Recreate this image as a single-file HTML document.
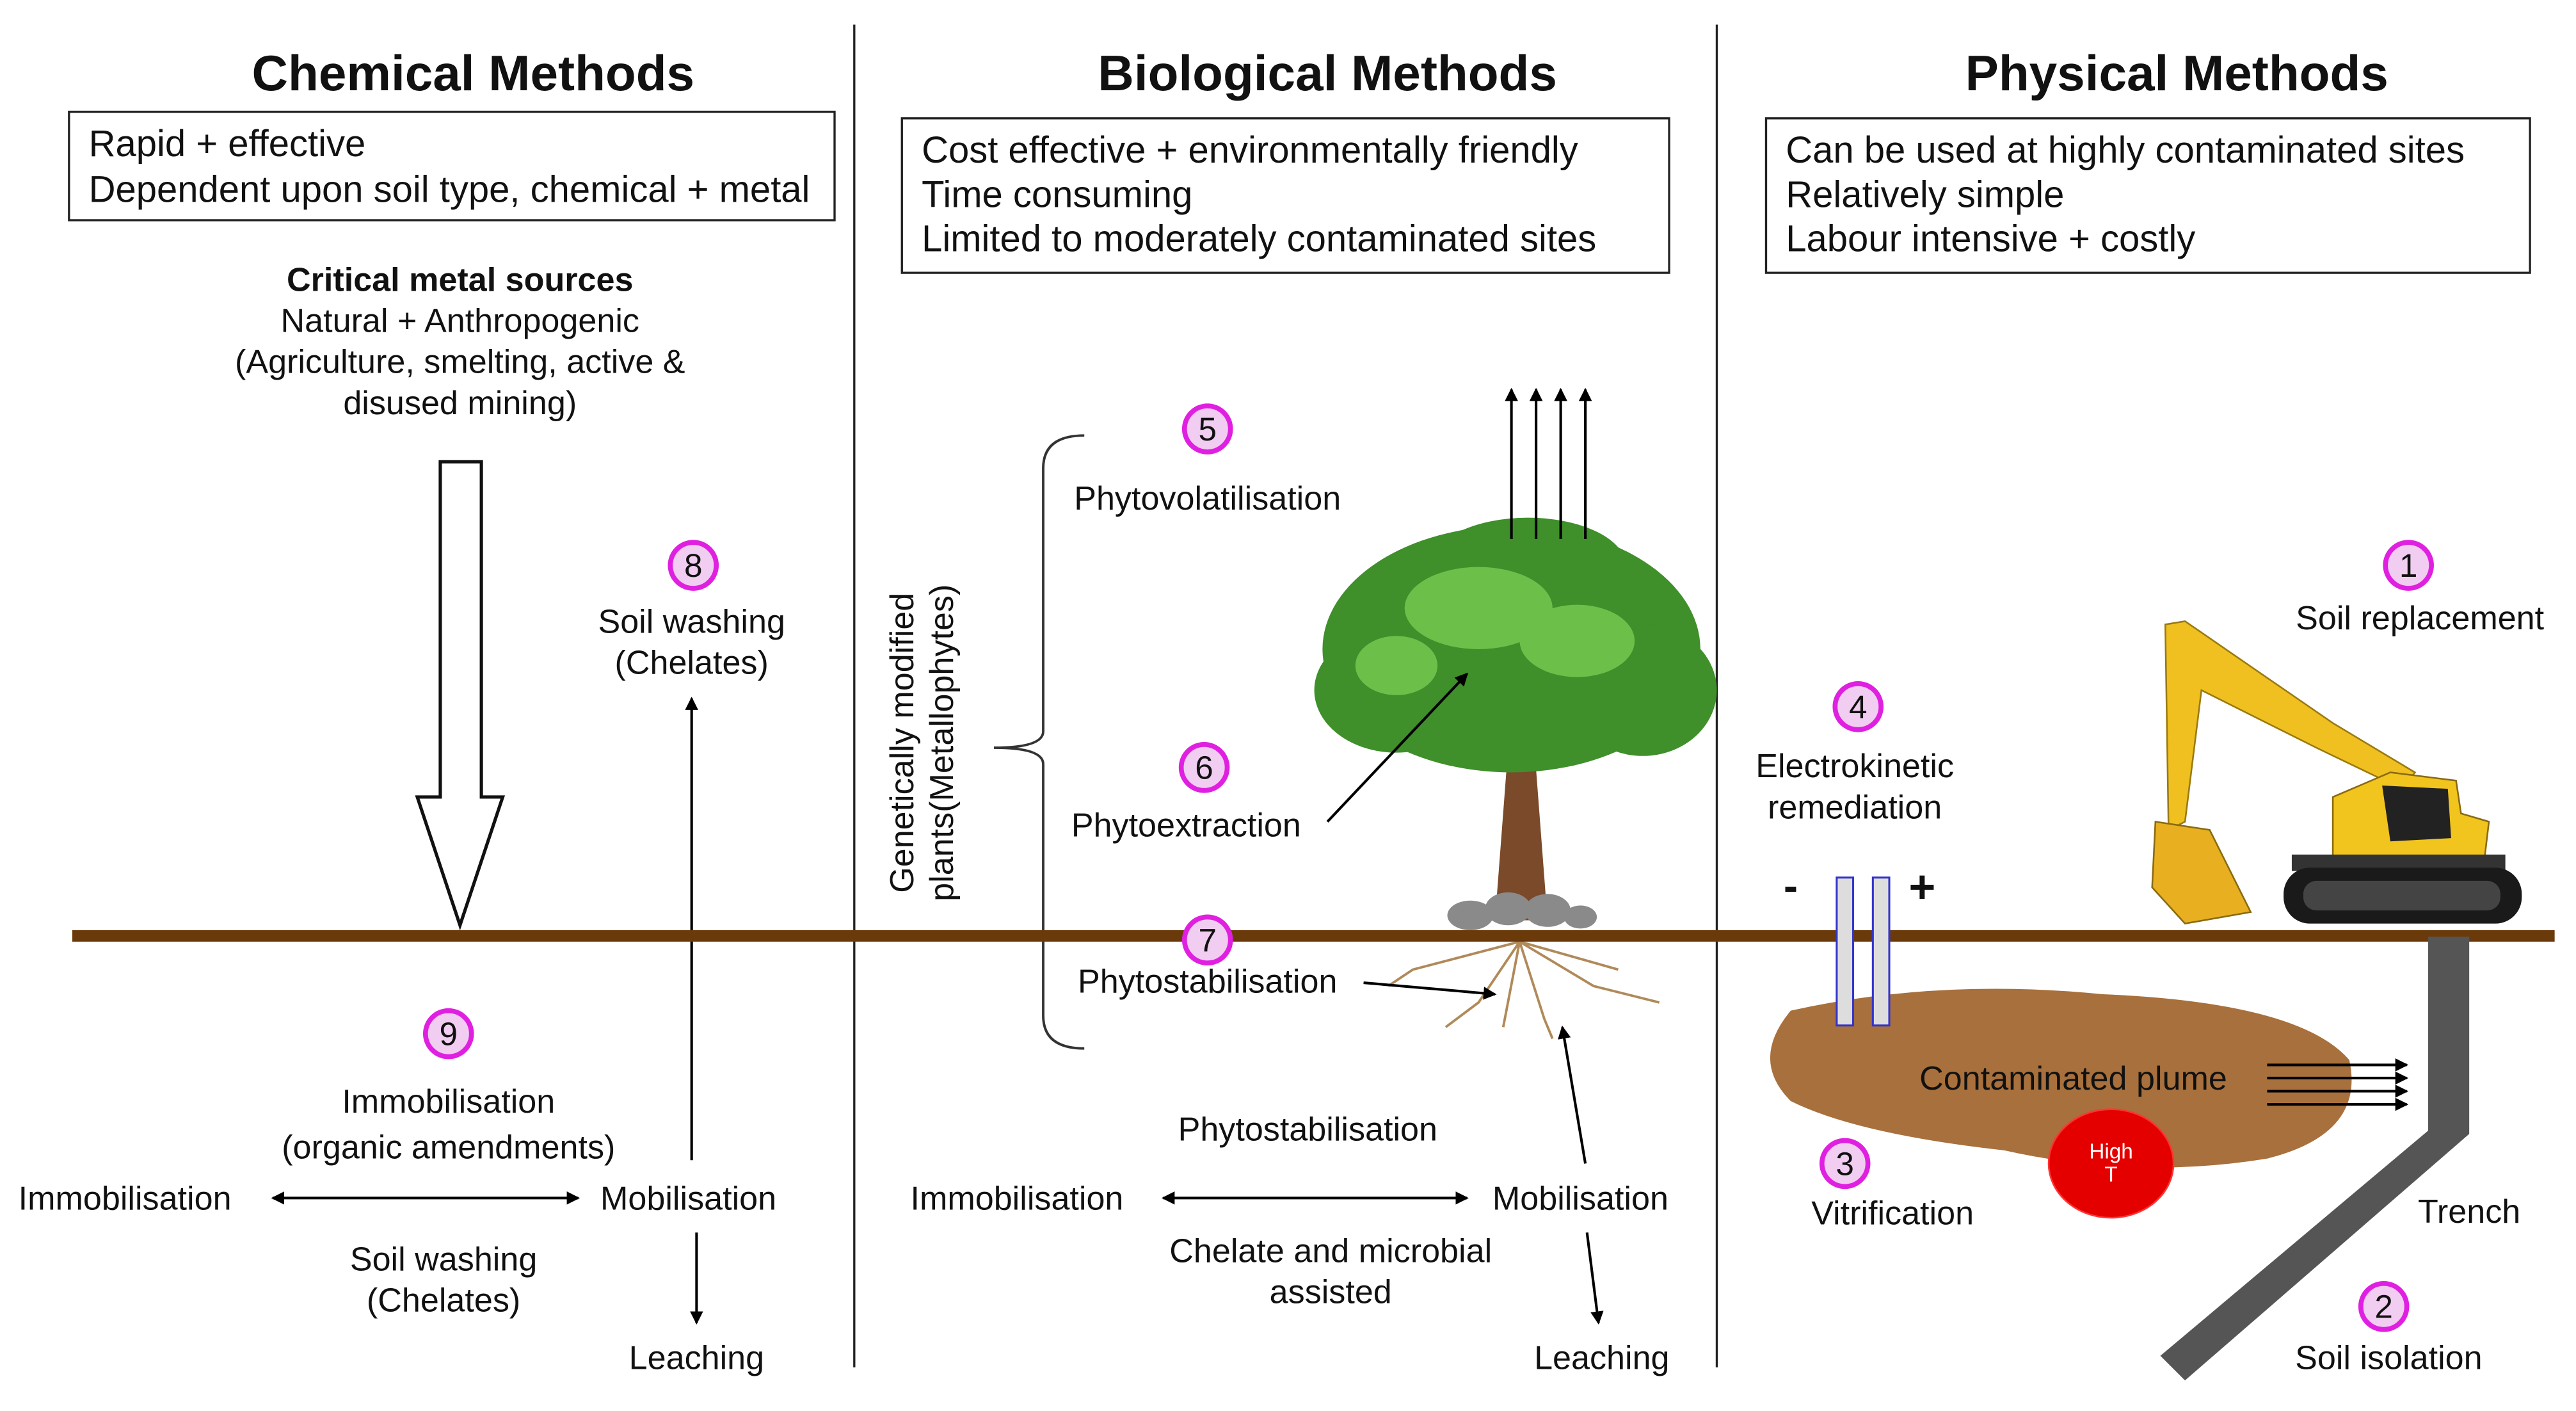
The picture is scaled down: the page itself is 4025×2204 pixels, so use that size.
<!DOCTYPE html>
<html><head><meta charset="utf-8"><style>
html,body{margin:0;padding:0;background:#fff}
svg{display:block}
text{font-family:"Liberation Sans",Arial,sans-serif;fill:#111}
</style></head><body>
<svg width="4025" height="2204" viewBox="0 0 1568 858.6" xmlns="http://www.w3.org/2000/svg">
<defs>
<marker id="ah" markerWidth="8" markerHeight="8" refX="7" refY="4" orient="auto" markerUnits="userSpaceOnUse"><path d="M0,0 L8,4 L0,8 z" fill="#000"/></marker>
<marker id="as" markerWidth="8" markerHeight="8" refX="1" refY="4" orient="auto" markerUnits="userSpaceOnUse"><path d="M8,0 L0,4 L8,8 z" fill="#000"/></marker>
</defs>
<rect width="1568" height="859" fill="#fff"/>
<line x1="520" y1="15" x2="520" y2="832" stroke="#222" stroke-width="1.3"/>
<line x1="1045" y1="15" x2="1045" y2="832" stroke="#222" stroke-width="1.3"/>
<g font-weight="bold" font-size="30.5" text-anchor="middle">
<text x="288" y="55">Chemical Methods</text>
<text x="808" y="55">Biological Methods</text>
<text x="1325" y="55">Physical Methods</text>
</g>
<g fill="none" stroke="#222" stroke-width="1.3">
<rect x="42" y="68" width="466" height="66"/>
<rect x="549" y="72" width="467" height="94"/>
<rect x="1075" y="72" width="465" height="94"/>
</g>
<g font-size="22.6">
<text x="54" y="95">Rapid + effective</text>
<text x="54" y="123">Dependent upon soil type, chemical + metal</text>
<text x="561" y="99">Cost effective + environmentally friendly</text>
<text x="561" y="126">Time consuming</text>
<text x="561" y="153">Limited to moderately contaminated sites</text>
<text x="1087" y="99">Can be used at highly contaminated sites</text>
<text x="1087" y="126">Relatively simple</text>
<text x="1087" y="153">Labour intensive + costly</text>
</g>
<g font-size="20.3" text-anchor="middle">
<text x="280" y="177" font-weight="bold">Critical metal sources</text>
<text x="280" y="202">Natural + Anthropogenic</text>
<text x="280" y="227">(Agriculture, smelting, active &amp;</text>
<text x="280" y="252">disused mining)</text>
<text x="421" y="385">Soil washing</text>
<text x="421" y="410">(Chelates)</text>
<text x="273" y="677">Immobilisation</text>
<text x="273" y="705">(organic amendments)</text>
<text x="270" y="773">Soil washing</text>
<text x="270" y="798">(Chelates)</text>
<text x="424" y="833">Leaching</text>
<text x="76" y="736">Immobilisation</text>
<text x="419" y="736">Mobilisation</text>
</g>
<path d="M268,281 H293 V485 H306 L280,563 L254,485 H268 Z" fill="#fff" stroke="#111" stroke-width="2"/>
<!-- tree -->
<g>
<path d="M918,455 L910,560 L942,560 L934,455 L960,420 L950,418 L928,445 L900,410 L892,415 Z" fill="#7a4a2a"/>
<g fill="#3f8f2a">
<ellipse cx="920" cy="395" rx="115" ry="75"/>
<ellipse cx="850" cy="420" rx="50" ry="38"/>
<ellipse cx="1000" cy="420" rx="45" ry="40"/>
<ellipse cx="930" cy="345" rx="60" ry="30"/>
</g>
<g fill="#6cc04a">
<ellipse cx="900" cy="370" rx="45" ry="25"/>
<ellipse cx="960" cy="390" rx="35" ry="22"/>
<ellipse cx="850" cy="405" rx="25" ry="18"/>
</g>
<g fill="#8a8a8a">
<ellipse cx="895" cy="557" rx="14" ry="9"/><ellipse cx="918" cy="553" rx="14" ry="10"/>
<ellipse cx="942" cy="554" rx="14" ry="10"/><ellipse cx="962" cy="558" rx="10" ry="7"/>
</g>
<g stroke="#b08a5a" stroke-width="1.5" fill="none">
<path d="M925,573 L900,610 L880,625"/><path d="M925,573 L940,620 L945,632"/>
<path d="M925,573 L970,600 L1010,610"/><path d="M925,573 L860,590 L845,600"/>
<path d="M925,573 L915,625"/><path d="M925,573 L985,590"/>
</g>
</g>
<g stroke="#000" stroke-width="1.6" fill="none">
<line x1="421" y1="706" x2="421" y2="425" marker-end="url(#ah)"/>
<line x1="424" y1="750" x2="424" y2="805" marker-end="url(#ah)"/>
<line x1="166" y1="729" x2="352" y2="729" marker-end="url(#ah)" marker-start="url(#as)"/>
<line x1="708" y1="729" x2="893" y2="729" marker-end="url(#ah)" marker-start="url(#as)"/>
<line x1="966" y1="750" x2="973" y2="805" marker-end="url(#ah)"/>
<line x1="965" y1="708" x2="951" y2="625" marker-end="url(#ah)"/>
<line x1="808" y1="500" x2="893" y2="410" marker-end="url(#ah)"/>
<line x1="830" y1="598" x2="910" y2="605" marker-end="url(#ah)"/>
<line x1="920" y1="328" x2="920" y2="237" marker-end="url(#ah)"/>
<line x1="935" y1="328" x2="935" y2="237" marker-end="url(#ah)"/>
<line x1="950" y1="328" x2="950" y2="237" marker-end="url(#ah)"/>
<line x1="965" y1="328" x2="965" y2="237" marker-end="url(#ah)"/>
</g>
<path d="M660,265 Q635,265 635,285 V445 Q635,455 605,455 Q635,455 635,465 V618 Q635,638 660,638" fill="none" stroke="#333" stroke-width="1.5"/>
<g font-size="20.3" text-anchor="middle">
<text transform="translate(556,452) rotate(-90)">Genetically modified</text>
<text transform="translate(580,452) rotate(-90)">plants(Metallophytes)</text>
<text x="735" y="310">Phytovolatilisation</text>
<text x="722" y="509">Phytoextraction</text>
<text x="735" y="604">Phytostabilisation</text>
<text x="796" y="694">Phytostabilisation</text>
<text x="619" y="736">Immobilisation</text>
<text x="962" y="736">Mobilisation</text>
<text x="810" y="768">Chelate and microbial</text>
<text x="810" y="793">assisted</text>
<text x="975" y="833">Leaching</text>
</g>
<rect x="44" y="566" width="1511" height="7" fill="#6b3a0a"/>
<path d="M1090,615 Q1180,595 1280,605 Q1400,610 1430,645 Q1440,690 1380,705 Q1300,718 1220,700 Q1130,690 1090,670 Q1065,645 1090,615 Z" fill="#a8703c"/>
<rect x="1118" y="534" width="10" height="90" fill="#ddd" stroke="#33c" stroke-width="1.2"/>
<rect x="1140" y="534" width="10" height="90" fill="#ddd" stroke="#33c" stroke-width="1.2"/>
<text x="1090" y="548" font-size="26" font-weight="bold" text-anchor="middle">-</text>
<text x="1170" y="549" font-size="28" font-weight="bold" text-anchor="middle">+</text>
<g stroke="#000" stroke-width="1.6">
<line x1="1380" y1="648" x2="1465" y2="648" marker-end="url(#ah)"/>
<line x1="1380" y1="656" x2="1465" y2="656" marker-end="url(#ah)"/>
<line x1="1380" y1="664" x2="1465" y2="664" marker-end="url(#ah)"/>
<line x1="1380" y1="672" x2="1465" y2="672" marker-end="url(#ah)"/>
</g>
<ellipse cx="1285" cy="708" rx="38" ry="33" fill="#e50000" stroke="#f33"/>
<text x="1285" y="705" font-size="13" text-anchor="middle" style="fill:#fff">High</text>
<text x="1285" y="719" font-size="13" text-anchor="middle" style="fill:#fff">T</text>
<path d="M1478,570 H1503 V690 L1330,840 L1315,825 L1478,688 Z" fill="#555"/>
<g font-size="20.3" text-anchor="middle">
<text x="1129" y="473">Electrokinetic</text>
<text x="1129" y="498">remediation</text>
<text x="1262" y="663">Contaminated plume</text>
<text x="1152" y="745">Vitrification</text>
<text x="1503" y="744">Trench</text>
<text x="1454" y="833">Soil isolation</text>
<text x="1473" y="383">Soil replacement</text>
</g>
<g>
<path d="M1318,380 L1330,378 L1420,440 L1470,470 L1462,480 L1410,455 L1340,420 L1330,500 L1320,505 Z" fill="#f0c020" stroke="#9a7a10" stroke-width="1"/>
<path d="M1312,500 L1345,505 L1370,555 L1330,562 L1310,540 Z" fill="#e8b020" stroke="#8a6a10"/>
<path d="M1420,485 L1455,470 L1495,475 L1498,495 L1515,500 L1512,525 L1420,527 Z" fill="#f2c41e" stroke="#8a6a10"/>
<path d="M1450,478 L1490,480 L1492,510 L1455,512 Z" fill="#222"/>
<rect x="1395" y="520" width="130" height="10" fill="#333"/>
<rect x="1390" y="528" width="145" height="34" rx="16" fill="#1a1a1a"/>
<rect x="1402" y="536" width="120" height="18" rx="8" fill="#444"/>
</g>
<g fill="#f1cdf1" stroke="#e020e0" stroke-width="3">
<circle cx="422" cy="344" r="14"/><circle cx="273" cy="629" r="14"/>
<circle cx="735" cy="261" r="14"/><circle cx="733" cy="467" r="14"/>
<circle cx="735" cy="572" r="14"/><circle cx="1466" cy="344" r="14"/>
<circle cx="1131" cy="430" r="14"/><circle cx="1123" cy="708" r="14"/>
<circle cx="1451" cy="795" r="14"/>
</g>
<g font-size="20" text-anchor="middle">
<text x="422" y="351">8</text><text x="273" y="636">9</text>
<text x="735" y="268">5</text><text x="733" y="474">6</text>
<text x="735" y="579">7</text><text x="1466" y="351">1</text>
<text x="1131" y="437">4</text><text x="1123" y="715">3</text>
<text x="1451" y="802">2</text>
</g>
</svg>
</body></html>
